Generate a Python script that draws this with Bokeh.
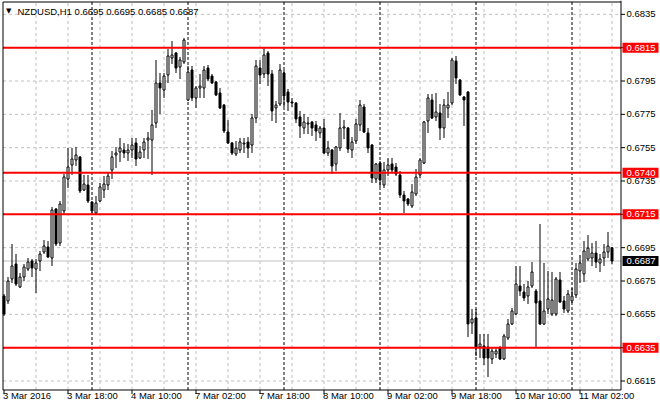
from bokeh.plotting import figure
from bokeh.models import Range1d, ColumnDataSource
from bokeh.core.properties import value
from bokeh.embed import file_html
from bokeh.resources import INLINE

# ---------------- data (NZDUSD, H1) ----------------
opens = [0.66660, 0.66630, 0.66762, 0.66852, 0.66714, 0.66774, 0.66822, 0.66870, 0.66822, 0.66870,
         0.66924, 0.66954, 0.66888, 0.67182, 0.66978, 0.67170, 0.67362, 0.67446, 0.67476, 0.67494,
         0.67296, 0.67326, 0.67224, 0.67158, 0.67230, 0.67296, 0.67326, 0.67416, 0.67506, 0.67524,
         0.67536, 0.67518, 0.67536, 0.67578, 0.67488, 0.67536, 0.67596, 0.67596, 0.67698, 0.67938,
         0.67896, 0.67986, 0.68088, 0.68118, 0.68034, 0.68064, 0.67836, 0.68016, 0.67848, 0.67908,
         0.67908, 0.68028, 0.67980, 0.67944, 0.67878, 0.67806, 0.67644, 0.67578, 0.67512, 0.67536,
         0.67572, 0.67584, 0.67566, 0.67728, 0.68028, 0.67992, 0.68118, 0.67992, 0.67788, 0.67812,
         0.67998, 0.67884, 0.67824, 0.67818, 0.67734, 0.67668, 0.67692, 0.67704, 0.67686, 0.67638,
         0.67668, 0.67518, 0.67536, 0.67452, 0.67548, 0.67668, 0.67668, 0.67536, 0.67590, 0.67686,
         0.67794, 0.67638, 0.67566, 0.67362, 0.67458, 0.67326, 0.67416, 0.67452, 0.67434, 0.67386,
         0.67266, 0.67242, 0.67200, 0.67272, 0.67386, 0.67458, 0.67710, 0.67836, 0.67734, 0.67758,
         0.67668, 0.67788, 0.67818, 0.68070, 0.67956, 0.67854, 0.67884, 0.66498, 0.66528, 0.66354,
         0.66360, 0.66354, 0.66282, 0.66312, 0.66348, 0.66282, 0.66408, 0.66492, 0.66552, 0.66720,
         0.66684, 0.66660, 0.66720, 0.66690, 0.66630, 0.66492, 0.66582, 0.66552, 0.66552, 0.66756,
         0.66630, 0.66570, 0.66630, 0.66666, 0.66810, 0.66792, 0.66882, 0.66888, 0.66918, 0.66858,
         0.66888, 0.66924, 0.66950]
highs = [0.66672, 0.66774, 0.66972, 0.66912, 0.66798, 0.66852, 0.66888, 0.66882, 0.66882, 0.66930,
         0.66996, 0.66990, 0.67194, 0.67188, 0.67230, 0.67392, 0.67548, 0.67548, 0.67554, 0.67500,
         0.67386, 0.67386, 0.67230, 0.67260, 0.67338, 0.67380, 0.67398, 0.67530, 0.67554, 0.67608,
         0.67578, 0.67572, 0.67608, 0.67608, 0.67560, 0.67608, 0.67644, 0.67776, 0.68076, 0.67998,
         0.67998, 0.68142, 0.68190, 0.68124, 0.68094, 0.68208, 0.68040, 0.68040, 0.67920, 0.67992,
         0.68040, 0.68046, 0.67992, 0.67950, 0.67908, 0.67812, 0.67716, 0.67584, 0.67590, 0.67608,
         0.67608, 0.67614, 0.67752, 0.68076, 0.68076, 0.68148, 0.68130, 0.68016, 0.67830, 0.68052,
         0.68016, 0.67902, 0.67848, 0.67824, 0.67770, 0.67752, 0.67734, 0.67710, 0.67710, 0.67680,
         0.67722, 0.67590, 0.67542, 0.67560, 0.67758, 0.67716, 0.67674, 0.67614, 0.67722, 0.67836,
         0.67812, 0.67668, 0.67572, 0.67458, 0.67470, 0.67464, 0.67488, 0.67488, 0.67458, 0.67410,
         0.67290, 0.67248, 0.67332, 0.67422, 0.67488, 0.67710, 0.67872, 0.67872, 0.67878, 0.67812,
         0.67842, 0.67884, 0.68088, 0.68100, 0.67962, 0.67860, 0.67890, 0.66582, 0.66582, 0.66432,
         0.66432, 0.66432, 0.66354, 0.66348, 0.66360, 0.66432, 0.66522, 0.66588, 0.66840, 0.66840,
         0.66732, 0.66750, 0.66864, 0.66702, 0.67092, 0.66858, 0.66810, 0.66804, 0.66774, 0.66804,
         0.66660, 0.66696, 0.66708, 0.66858, 0.66906, 0.66990, 0.67026, 0.66978, 0.66990, 0.66912,
         0.66972, 0.67044, 0.66950]
lows = [0.66540, 0.66612, 0.66738, 0.66720, 0.66708, 0.66750, 0.66810, 0.66774, 0.66678, 0.66810,
        0.66912, 0.66888, 0.66840, 0.66960, 0.66960, 0.67152, 0.67308, 0.67386, 0.67440, 0.67278,
        0.67290, 0.67218, 0.67158, 0.67146, 0.67224, 0.67248, 0.67296, 0.67362, 0.67428, 0.67464,
        0.67488, 0.67470, 0.67488, 0.67440, 0.67482, 0.67488, 0.67482, 0.67386, 0.67668, 0.67752,
        0.67848, 0.67938, 0.68052, 0.67998, 0.67962, 0.68052, 0.67830, 0.67830, 0.67788, 0.67848,
        0.67848, 0.67950, 0.67932, 0.67860, 0.67782, 0.67638, 0.67572, 0.67506, 0.67500, 0.67518,
        0.67518, 0.67488, 0.67518, 0.67698, 0.67932, 0.67968, 0.67920, 0.67710, 0.67698, 0.67800,
        0.67794, 0.67770, 0.67794, 0.67698, 0.67608, 0.67632, 0.67632, 0.67620, 0.67590, 0.67608,
        0.67512, 0.67500, 0.67392, 0.67410, 0.67530, 0.67602, 0.67518, 0.67488, 0.67572, 0.67650,
        0.67638, 0.67518, 0.67338, 0.67338, 0.67314, 0.67308, 0.67380, 0.67398, 0.67380, 0.67248,
        0.67158, 0.67200, 0.67188, 0.67260, 0.67368, 0.67452, 0.67638, 0.67722, 0.67710, 0.67596,
        0.67608, 0.67728, 0.67806, 0.67932, 0.67860, 0.67680, 0.66414, 0.66432, 0.66300, 0.66288,
        0.66246, 0.66174, 0.66252, 0.66288, 0.66276, 0.66276, 0.66396, 0.66486, 0.66546, 0.66660,
        0.66630, 0.66612, 0.66708, 0.66354, 0.66486, 0.66486, 0.66552, 0.66540, 0.66540, 0.66618,
        0.66558, 0.66558, 0.66618, 0.66648, 0.66738, 0.66744, 0.66870, 0.66840, 0.66828, 0.66804,
        0.66840, 0.66888, 0.66850]
closes = [0.66552, 0.66750, 0.66840, 0.66732, 0.66774, 0.66834, 0.66864, 0.66828, 0.66858, 0.66912,
          0.66960, 0.66894, 0.67176, 0.66972, 0.67212, 0.67374, 0.67434, 0.67482, 0.67506, 0.67290,
          0.67332, 0.67230, 0.67170, 0.67218, 0.67314, 0.67332, 0.67380, 0.67494, 0.67518, 0.67548,
          0.67518, 0.67536, 0.67566, 0.67482, 0.67524, 0.67584, 0.67608, 0.67686, 0.67938, 0.67908,
          0.67980, 0.68100, 0.68106, 0.68028, 0.68076, 0.68196, 0.68004, 0.67848, 0.67908, 0.67920,
          0.68016, 0.67962, 0.67938, 0.67866, 0.67788, 0.67650, 0.67578, 0.67518, 0.67548, 0.67584,
          0.67578, 0.67548, 0.67728, 0.68040, 0.67986, 0.68106, 0.67992, 0.67770, 0.67806, 0.68016,
          0.67860, 0.67824, 0.67818, 0.67722, 0.67680, 0.67704, 0.67698, 0.67668, 0.67650, 0.67668,
          0.67518, 0.67548, 0.67440, 0.67554, 0.67668, 0.67674, 0.67542, 0.67584, 0.67692, 0.67806,
          0.67644, 0.67548, 0.67368, 0.67452, 0.67356, 0.67416, 0.67446, 0.67416, 0.67392, 0.67266,
          0.67230, 0.67212, 0.67284, 0.67374, 0.67476, 0.67704, 0.67848, 0.67728, 0.67764, 0.67668,
          0.67806, 0.67806, 0.68076, 0.67968, 0.67866, 0.67836, 0.66492, 0.66522, 0.66348, 0.66372,
          0.66288, 0.66288, 0.66330, 0.66330, 0.66282, 0.66420, 0.66492, 0.66570, 0.66732, 0.66690,
          0.66648, 0.66714, 0.66804, 0.66618, 0.66492, 0.66570, 0.66642, 0.66636, 0.66762, 0.66624,
          0.66582, 0.66672, 0.66660, 0.66822, 0.66858, 0.66930, 0.66948, 0.66918, 0.66864, 0.66882,
          0.66924, 0.66960, 0.66870]
bars = list(range(len(opens)))

# time axis: bar index of each label, and its text
time_label_bars = [0, 16, 32, 48, 64, 80, 96, 112, 128, 144]
time_labels = ["3 Mar 2016", "3 Mar 18:00", "4 Mar 10:00", "7 Mar 02:00", "7 Mar 18:00",
               "8 Mar 10:00", "9 Mar 02:00", "9 Mar 18:00", "10 Mar 10:00", "11 Mar 02:00"]
time_grid_bars = [8, 16, 24, 32, 40, 48, 56, 64, 72, 80, 88, 96, 104, 112, 120, 128, 136, 144, 152]
day_separator_bars = [22, 46, 70, 94, 118, 142]

price_ticks = [0.6615, 0.6635, 0.6655, 0.6675, 0.6695, 0.6715, 0.6735, 0.6755, 0.6775, 0.6795, 0.6815, 0.6835]
price_tick_labels = ["0.6615", "", "0.6655", "0.6675", "0.6695", "", "0.6735", "0.6755", "0.6775", "0.6795", "", "0.6835"]

levels = [0.6815, 0.6740, 0.6715, 0.6635]
level_labels = ["0.6815", "0.6740", "0.6715", "0.6635"]
last_price = 0.6687
last_price_label = "0.6687"
title_text = "NZDUSD,H1 0.6695 0.6695 0.6685 0.6687"

# ---------------- geometry (4 px per bar, 0.00006 per px) ----------------
FONT = value("Liberation Sans")
FS = value("9.5px")
W, H = 660, 410
PX = 0.25            # bar units per pixel
PY = 0.00006         # price units per pixel
XL, XR = -0.875, -0.875 + W * PX          # x range
YT = 0.68433
YB = YT - H * PY                          # y range
cx0 = -0.25          # left border of the chart area
cx1 = 154.25         # right axis line
cy1 = YT - 1.5 * PY  # top border
cy0 = YT - 389.5 * PY  # bottom axis line

p = figure(width=W, height=H, output_backend="svg", toolbar_location=None, tools="",
           x_range=Range1d(XL, XR), y_range=Range1d(YB, YT),
           x_axis_location=None, y_axis_location=None,
           min_border=0, min_border_left=0, min_border_right=0, min_border_top=0, min_border_bottom=0)
p.background_fill_color = "white"
p.border_fill_color = "white"
p.outline_line_color = None
for g in p.grid:
    g.visible = False

GRID = "#c0c0c0"
# grid lines (dotted, inside the chart area)
p.segment(x0=time_grid_bars, y0=[cy0] * len(time_grid_bars), x1=time_grid_bars, y1=[cy1] * len(time_grid_bars),
          line_color=GRID, line_width=1, line_dash="3 3")
p.segment(x0=[cx0] * len(price_ticks), y0=price_ticks, x1=[cx1] * len(price_ticks), y1=price_ticks,
          line_color=GRID, line_width=1, line_dash="3 3")

# day separators
p.segment(x0=day_separator_bars, y0=[cy0] * len(day_separator_bars), x1=day_separator_bars,
          y1=[cy1] * len(day_separator_bars), line_color="black", line_width=1, line_dash="3 2")
# last price line
p.segment(x0=[cx0], y0=[last_price], x1=[cx1], y1=[last_price], line_color=GRID, line_width=1)

# candles
body_top = [max(o, c) for o, c in zip(opens, closes)]
body_bot = [min(o, c) for o, c in zip(opens, closes)]
fills = ["white" if c >= o else "black" for o, c in zip(opens, closes)]
src = ColumnDataSource(dict(x=bars, o=opens, h=highs, l=lows, c=closes,
                            top=body_top, bot=body_bot, fill=fills))
p.segment(x0="x", y0="l", x1="x", y1="h", source=src, line_color="black", line_width=1)
p.vbar(x="x", width=2 * PX, top="top", bottom="bot", source=src,
       fill_color="fill", line_color="black", line_width=1)

# horizontal levels
p.segment(x0=[cx0] * len(levels), y0=levels, x1=[cx1] * len(levels), y1=levels,
          line_color="#ff0000", line_width=2)

# frame: left border, top border, right axis, bottom axis
p.segment(x0=[cx0, cx0, cx1, cx0], y0=[cy0, cy1, cy0, cy0], x1=[cx0, cx1, cx1, cx1], y1=[cy1, cy1, YT, cy0],
          line_color="black", line_width=1)

# price axis ticks and labels
p.segment(x0=[cx1] * len(price_ticks), y0=price_ticks, x1=[cx1 + 4 * PX] * len(price_ticks), y1=price_ticks,
          line_color="black", line_width=1)
shown = [(t, s) for t, s in zip(price_ticks, price_tick_labels) if s]
p.text(x=[cx1 + 5.5 * PX] * len(shown), y=[t for t, _ in shown], text=[s for _, s in shown],
       text_font=FONT, text_font_size=FS, text_color="black", text_align="left", text_baseline="middle")

# time axis ticks and labels
p.segment(x0=time_label_bars, y0=[cy0] * len(time_label_bars), x1=time_label_bars,
          y1=[cy0 - 4 * PY] * len(time_label_bars), line_color="black", line_width=1)
p.text(x=[b - 1 * PX for b in time_label_bars], y=[cy0 - 5.5 * PY] * len(time_label_bars), text=time_labels,
       text_font=FONT, text_font_size=FS, text_color="black", text_align="left", text_baseline="middle")

# price tags
tag_l, tag_r, tag_h = cx1 + 1.5 * PX, cx1 + 37.5 * PX, 5 * PY
p.quad(left=[tag_l] * len(levels), right=[tag_r] * len(levels),
       top=[lv + tag_h for lv in levels], bottom=[lv - tag_h for lv in levels],
       fill_color="#ff0000", line_color=None)
p.quad(left=[tag_l], right=[tag_r], top=[last_price + tag_h], bottom=[last_price - tag_h],
       fill_color="black", line_color=None)
p.text(x=[cx1 + 5.5 * PX] * (len(levels) + 1), y=levels + [last_price], text=level_labels + [last_price_label],
       text_font=FONT, text_font_size=FS, text_color="white", text_align="left", text_baseline="middle")

# title
p.text(x=[cx0 + 3 * PX], y=[YT - 10.5 * PY], text=["▼"], text_font=value("DejaVu Sans"),
       text_font_size=value("7px"), text_color="black", text_align="left", text_baseline="middle")
p.text(x=[cx0 + 14.5 * PX], y=[YT - 10.5 * PY], text=[title_text], text_font=FONT, text_font_size=FS,
       text_color="black", text_align="left", text_baseline="middle")

open("out.html", "w").write(file_html(p, INLINE))
